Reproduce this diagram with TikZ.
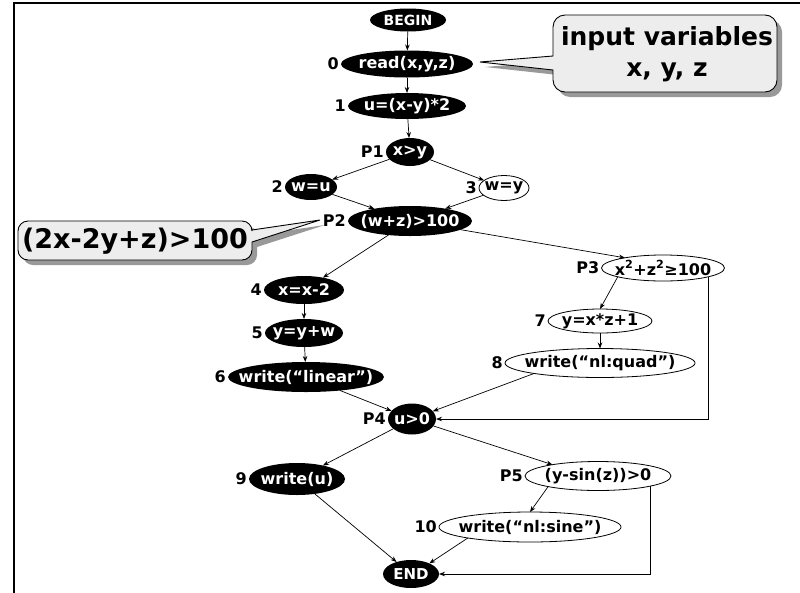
\documentclass[tikz,border=0pt]{standalone}
\usepackage{fontspec}
\setmainfont{DejaVu Sans}
\usetikzlibrary{shapes.geometric,arrows.meta}
\begin{document}
\begin{tikzpicture}[x=1pt,y=-1pt,
  every node/.style={font=\bfseries\fontsize{16}{18}\selectfont},
  fc/.style={ellipse, inner xsep=-20pt, inner ysep=-9pt, outer sep=0pt},
  blk/.style={fc, fill=black, text=white},
  wht/.style={fc, fill=white, draw=black, line width=0.8pt},
  num/.style={anchor=east, inner sep=2pt, font=\bfseries\fontsize{16}{18}\selectfont},
  arr/.style={-{Stealth[length=6pt,width=4.5pt]}, line width=0.7pt},
  callout/.style={fill=black!7, draw=black, line width=0.9pt},
  cshadow/.style={fill=black!40},
  ctext/.style={font=\bfseries\fontsize{25}{31}\selectfont, align=center}
]
\useasboundingbox (0,0) rectangle (800,592);
\clip (0,0) rectangle (800,592);
\draw[line width=2.5pt] (14,600) -- (14,3) -- (810,3);

% callouts
\begin{scope}[shift={(5,5)}]
\path[cshadow] (553,56) [rounded corners=12] -- (553,15) -- (777,15) -- (777,92) -- (553,92) [sharp corners] -- (553,70) -- (480,62) -- cycle;
\path[cshadow] (252,230) [rounded corners=10] -- (252,221) -- (18,221) -- (18,260) -- (252,260) [sharp corners] -- (252,242) -- (320,220) -- cycle;
\end{scope}
\draw[callout] (553,56) [rounded corners=12] -- (553,15) -- (777,15) -- (777,92) -- (553,92) [sharp corners] -- (553,70) -- (480,62) -- cycle;
\draw[callout] (252,230) [rounded corners=10] -- (252,221) -- (18,221) -- (18,260) -- (252,260) [sharp corners] -- (252,242) -- (320,220) -- cycle;
\node[ctext] (c1) at (667,54) {input variables\\x, y, z};
\node[ctext, font=\bfseries\fontsize{27}{31}\selectfont] (c2) at (135,241) {(2x-2y+z)>100};

% nodes
\node[blk, minimum width=76, minimum height=23, font=\bfseries\fontsize{14}{16}\selectfont] (start) at (408,20) {BEGIN};
\node[blk, minimum width=132, minimum height=27] (read) at (407,64) {read(x,y,z)};
\node[num] (l0) at (read.west) {0};
\node[blk, minimum width=118, minimum height=26] (n1) at (407,106) {u=(x-y)*2};
\node[num] (l1) at (n1.west) {1};
\node[blk, minimum width=48, minimum height=28] (p1) at (410,152) {x>y};
\node[num] (lp1) at (p1.west) {P1};
\node[blk, minimum width=52, minimum height=26] (n2) at (311,187) {w=u};
\node[num] (l2) at (n2.west) {2};
\node[wht, minimum width=50, minimum height=25] (n3) at (504,188) {w=y};
\node[num] (l3) at (n3.west) {3};
\node[blk, minimum width=124, minimum height=30] (p2) at (410,221) {(w+z)>100};
\node[num] (lp2) at (p2.west) {P2};
\node[blk, minimum width=80, minimum height=28] (n4) at (304,290) {x=x-2};
\node[num] (l4) at (n4.west) {4};
\node[blk, minimum width=78, minimum height=28] (n5) at (304,333) {y=y+w};
\node[num] (l5) at (n5.west) {5};
\node[blk, minimum width=156, minimum height=30] (n6) at (306,377) {write(“linear”)};
\node[num] (l6) at (n6.west) {6};
\node[wht, minimum width=123, minimum height=26] (p3) at (663,268) {x\textsuperscript{2}+z\textsuperscript{2}≥100};
\node[num] (lp3) at (p3.west) {P3};
\node[wht, minimum width=104, minimum height=24] (n7) at (600,321) {y=x*z+1};
\node[num] (l7) at (n7.west) {7};
\node[wht, minimum width=190, minimum height=29] (n8) at (600,363) {write(“nl:quad”)};
\node[num] (l8) at (n8.west) {8};
\node[blk, minimum width=48, minimum height=31] (p4) at (412,419) {u>0};
\node[num] (lp4) at (p4.west) {P4};
\node[blk, minimum width=96, minimum height=32] (n9) at (297,479) {write(u)};
\node[num] (l9) at (n9.west) {9};
\node[wht, minimum width=146, minimum height=29] (p5) at (598,476) {(y-sin(z))>0};
\node[num] (lp5) at (p5.west) {P5};
\node[wht, minimum width=182, minimum height=30] (n10) at (530,527) {write(“nl:sine”)};
\node[num] (l10) at (n10.west) {10};
\node[blk, minimum width=56, minimum height=28, font=\bfseries\fontsize{15}{17}\selectfont] (fin) at (411,574) {END};

% edges
\draw[arr] (start) -- (read);
\draw[arr] (read) -- (n1);
\draw[arr] (n1) -- (p1);
\draw[arr] (p1) -- (n2);
\draw[arr] (p1) -- (n3);
\draw[arr] (n2) -- (p2);
\draw[arr] (n3) -- (p2);
\draw[arr] (p2) -- (n4);
\draw[arr] (p2) -- (p3.165);
\draw[arr] (p3.191) -- (n7.north);
\draw[arr] (n7) -- (n8);
\draw[arr] (n8.189) -- (p4);
\draw[arr] (p3.-11) |- (p4.east);
\draw[arr] (n4) -- (n5);
\draw[arr] (n5) -- (n6);
\draw[arr] (n6) -- (p4);
\draw[arr] (p4) -- (n9);
\draw[arr] (p4) -- (p5.166);
\draw[arr] (n9) -- (fin);
\draw[arr] (p5.192) -- (n10.north);
\draw[arr] (n10.190) -- (fin.30);
\draw[arr] (p5.-11) |- (fin.east);
\end{tikzpicture}
\end{document}
